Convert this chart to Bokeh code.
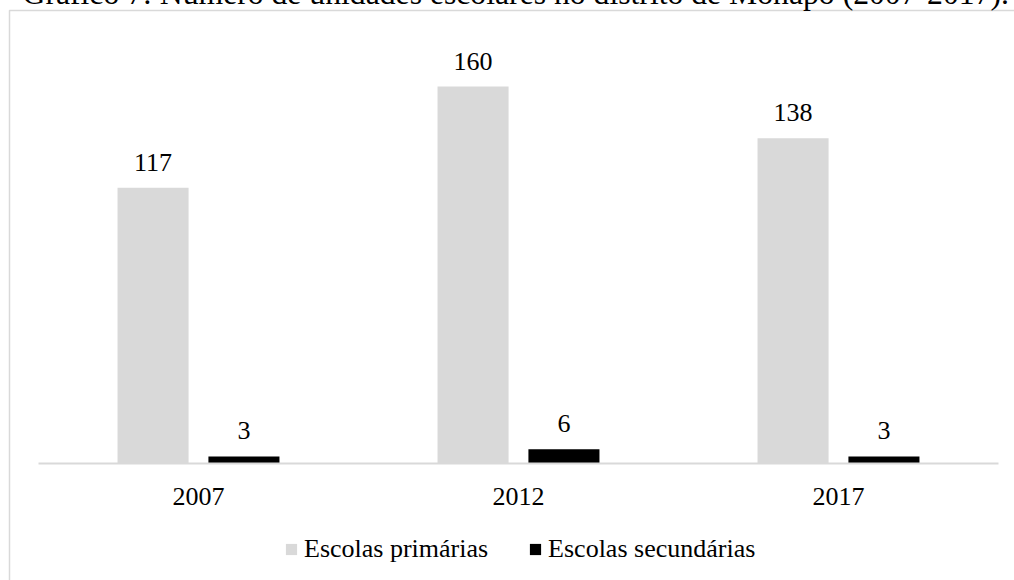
from bokeh.plotting import figure
from bokeh.models import (ColumnDataSource, FactorRange, Range1d, LabelSet,
                          Legend, LegendItem, GlobalInlineStyleSheet)
from bokeh.transform import dodge
from bokeh.embed import file_html
from bokeh.resources import INLINE

years = ["2007", "2012", "2017"]
primarias = [117, 160, 138]
secundarias = [3, 6, 3]
series_names = ["Escolas primárias", "Escolas secundárias"]
title_text = "Gráfico 7: Número de unidades escolares no distrito de Monapo (2007-2017)."

FONT = "Liberation Serif"
T = 30  # canvas pixels hidden above the window

src = ColumnDataSource(dict(
    year=years,
    prim=primarias,
    sec=secundarias,
    prim_txt=[str(v) for v in primarias],
    sec_txt=[str(v) for v in secundarias],
))

p = figure(x_range=FactorRange(*years, range_padding=29 / 320, range_padding_units="absolute"),
           y_range=Range1d(-58.15, 192.27),
           width=1027, height=710, output_backend="svg", toolbar_location=None,
           min_border_left=9, min_border_right=0, min_border_top=10 + T,
           min_border_bottom=80)
p.stylesheets = [GlobalInlineStyleSheet(
    css="html{overflow:hidden !important;height:auto !important;}"
        "body{padding:0 !important;overflow:visible !important;display:block !important;"
        "height:auto !important;min-height:760px !important;"
        "margin:-%dpx 0 0 0 !important;}" % T)]

p.outline_line_color = "#d9d9d9"
p.outline_line_width = 1.5
p.grid.visible = False
p.yaxis.visible = False
p.background_fill_color = "white"
p.border_fill_color = "white"

p.title.text = title_text
p.title.text_font = FONT
p.title.text_font_size = "31.7px"
p.title.text_font_style = "normal"
p.title.text_color = "black"
p.title.align = "left"
p.title.offset = 13
p.title.standoff = 0

off = 0.142
bw = 0.222
r1 = p.vbar(x=dodge("year", -off, range=p.x_range), top="prim", width=bw,
            source=src, fill_color="#d9d9d9", line_color=None)
r2 = p.vbar(x=dodge("year", off, range=p.x_range), top="sec", width=bw,
            source=src, fill_color="#000000", line_color=None)

for col, txt, o in (("prim", "prim_txt", -off), ("sec", "sec_txt", off)):
    p.add_layout(LabelSet(x=dodge("year", o, range=p.x_range), y=col, text=txt,
                          source=src, text_align="center", text_baseline="alphabetic",
                          y_offset=17, text_font=FONT, text_font_size="26px",
                          text_color="black"))

ax = p.xaxis[0]
ax.fixed_location = 0
ax.bounds = (0, len(years))
ax.axis_line_color = "#d9d9d9"
ax.axis_line_width = 2
ax.major_tick_line_color = None
ax.minor_tick_line_color = None
ax.major_label_text_font = FONT
ax.major_label_text_font_size = "26px"
ax.major_label_text_color = "black"
ax.major_label_standoff = 19

legend = Legend(items=[LegendItem(label=series_names[0], renderers=[r1]),
                       LegendItem(label=series_names[1], renderers=[r2])],
                orientation="horizontal", location=(275, 36),
                border_line_color=None, background_fill_alpha=0,
                label_text_font=FONT, label_text_font_size="26px",
                label_text_color="black",
                glyph_width=14, glyph_height=14, label_standoff=6, spacing=40,
                padding=0, margin=0)
p.add_layout(legend, "center")

open("out.html", "w").write(file_html(p, INLINE))
